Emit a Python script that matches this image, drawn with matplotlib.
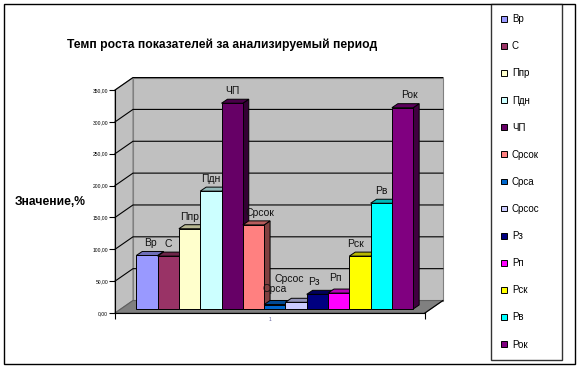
import matplotlib
matplotlib.use("Agg")
import matplotlib.pyplot as plt
from matplotlib.patches import Polygon, Rectangle
import numpy as np

plt.rcParams['font.family'] = ['Liberation Sans', 'DejaVu Sans']

# ---------------- data ----------------
categories = ["Вр", "С", "Ппр", "Пдн", "ЧП", "Срсок", "Срса", "Срсос",
              "Рз", "Рп", "Рск", "Рв", "Рок"]
values = [84, 83, 126, 185, 323, 132, 7, 10.5, 23, 25, 83, 166, 316]
colors = ["#9999FF", "#993366", "#FFFFCC", "#CCFFFF", "#660066", "#FF8080",
          "#0066CC", "#CCCCFF", "#000080", "#FF00FF", "#FFFF00", "#00FFFF",
          "#800080"]
yticks = [0, 50, 100, 150, 200, 250, 300, 350]
ytick_labels = ["0,00", "50,00", "100,00", "150,00", "200,00", "250,00",
                "300,00", "350,00"]
title = "Темп роста показателей за анализируемый период"
ylabel = "Значение,%"

# ------------- geometry (styles) -------------
W, H = 581, 370
fig = plt.figure(figsize=(W / 100, H / 100), dpi=100)
fig.patch.set_facecolor("white")

xpx = 21.3    # px per x unit
ypx = 0.637   # px per y unit
x0_px, y0_px = 115, 313  # pixel location of data (0,0)
xmin, xmax = -0.25, 15.6
ymin, ymax = -8, 378
left = x0_px + xmin * xpx
right = x0_px + xmax * xpx
bottom = y0_px - ymin * ypx
top = y0_px - ymax * ypx
ax = fig.add_axes([left / W, 1 - bottom / H, (right - left) / W, (bottom - top) / H])
ax.set_xlim(xmin, xmax)
ax.set_ylim(ymin, ymax)
ax.patch.set_visible(False)

wx, wy = 0.845, 19.6      # back wall offset
floor_x = 14.55           # front floor right edge
ymaxv = yticks[-1]
bdx, bdy = 0.28, 6.3      # bar depth
bby = 6.3                 # bar base offset

wall_c = "#C0C0C0"
floor_c = "#808080"

# walls & floor
ax.add_patch(Polygon([(0, 0), (0, ymaxv), (wx, ymaxv + wy), (wx, wy)], closed=True,
                     facecolor=wall_c, edgecolor="#808080", lw=0.8, zorder=0))
ax.add_patch(Polygon([(wx, wy), (floor_x + wx, wy), (floor_x + wx, ymaxv + wy), (wx, ymaxv + wy)],
                     closed=True, facecolor=wall_c, edgecolor="#808080", lw=0.8, zorder=0))
ax.add_patch(Polygon([(0, 0), (floor_x, 0), (floor_x + wx, wy), (wx, wy)], closed=True,
                     facecolor=floor_c, edgecolor="#606060", lw=0.8, zorder=0.5))
ax.plot([floor_x, floor_x + wx], [0, wy], color="black", lw=0.8, zorder=0.6)

# gridlines
for v in yticks[1:]:
    ax.plot([0, wx, floor_x + wx], [v, v + wy, v + wy], color="black", lw=0.8, zorder=1)

# bars
xs = np.arange(len(values)) + 1
for i, (cat, v, c) in enumerate(zip(categories, values, colors)):
    bars = ax.bar(xs[i], v, width=1, bottom=bby, align="edge", color=c,
                  edgecolor="black", lw=0.7, label=cat, zorder=10 + 3 * i + 2)
    p = bars.patches[0]
    bx0, by0 = p.get_x(), p.get_y()
    bw, bh = p.get_width(), p.get_height()
    rgb = np.array(matplotlib.colors.to_rgb(c))
    side = Polygon([(bx0 + bw, by0), (bx0 + bw + bdx, by0 + bdy),
                    (bx0 + bw + bdx, by0 + bh + bdy), (bx0 + bw, by0 + bh)],
                   closed=True, facecolor=rgb * 0.5, edgecolor="black", lw=0.7,
                   zorder=10 + 3 * i)
    topf = Polygon([(bx0, by0 + bh), (bx0 + bw, by0 + bh),
                    (bx0 + bw + bdx, by0 + bh + bdy), (bx0 + bdx, by0 + bh + bdy)],
                   closed=True, facecolor=rgb * 0.72, edgecolor="black", lw=0.7,
                   zorder=10 + 3 * i + 1)
    ax.add_patch(side)
    ax.add_patch(topf)

# data labels (small nudges to mimic the original label layout)
label_lift = {"Срса": 5, "Срсос": 17, "Рп": 5}
label_shift = {"Вр": 0.15, "Срсок": 0.3, "Срсос": -0.3, "Рз": -0.15,
               "Рп": -0.15, "Рск": -0.2, "Рок": 0.3}
for i, (cat, v) in enumerate(zip(categories, values)):
    ax.text(xs[i] + 0.5 + label_shift.get(cat, 0),
            bby + v + bdy + 5 + label_lift.get(cat, 0), cat,
            ha="center", va="bottom", fontsize=7.5, color="#111111", zorder=60)

# axes spines & ticks
for s in ["top", "right"]:
    ax.spines[s].set_visible(False)
ax.spines["left"].set_position(("data", 0))
ax.spines["left"].set_bounds(0, ymaxv)
ax.spines["bottom"].set_position(("data", 0))
ax.spines["bottom"].set_bounds(0, floor_x)
ax.spines["left"].set_zorder(70)
ax.spines["bottom"].set_zorder(70)
ax.set_yticks(yticks)
ax.set_yticklabels(ytick_labels, fontsize=3.6)
ax.tick_params(axis="y", length=4, width=0.8, pad=1, direction="out")
ax.set_xticks([floor_x / 2])
ax.set_xticklabels(["1"], fontsize=3.5, color="#6060A0")
ax.set_xticks([0, floor_x], minor=True)
ax.tick_params(axis="x", which="major", length=0, pad=3)
ax.tick_params(axis="x", which="minor", length=4, width=0.8, direction="out")

# title and y label
fig.text(222 / W, 1 - 45 / H, title, ha="center", va="center",
         fontsize=8.7, fontweight="bold")
fig.text(15 / W, 1 - 202 / H, ylabel, ha="left", va="center",
         fontsize=8.7, fontweight="bold")

# legend
leg = fig.legend(loc="upper left",
                 bbox_to_anchor=(491 / W, 1 - 356 / H, 71 / W, 352 / H),
                 mode="expand", ncol=1, fontsize=7, frameon=True, fancybox=False,
                 edgecolor="black", borderpad=1.05, labelspacing=1.76,
                 handlelength=0.55, handleheight=0.55, handletextpad=0.55,
                 borderaxespad=0)
leg.get_frame().set_linewidth(1.0)

# outer border
fig.add_artist(Rectangle((4 / W, 1 - 364 / H), 571 / W, 360 / H, transform=fig.transFigure,
                         fill=False, edgecolor="black", lw=1.0))

fig.savefig("out.png", dpi=100)
